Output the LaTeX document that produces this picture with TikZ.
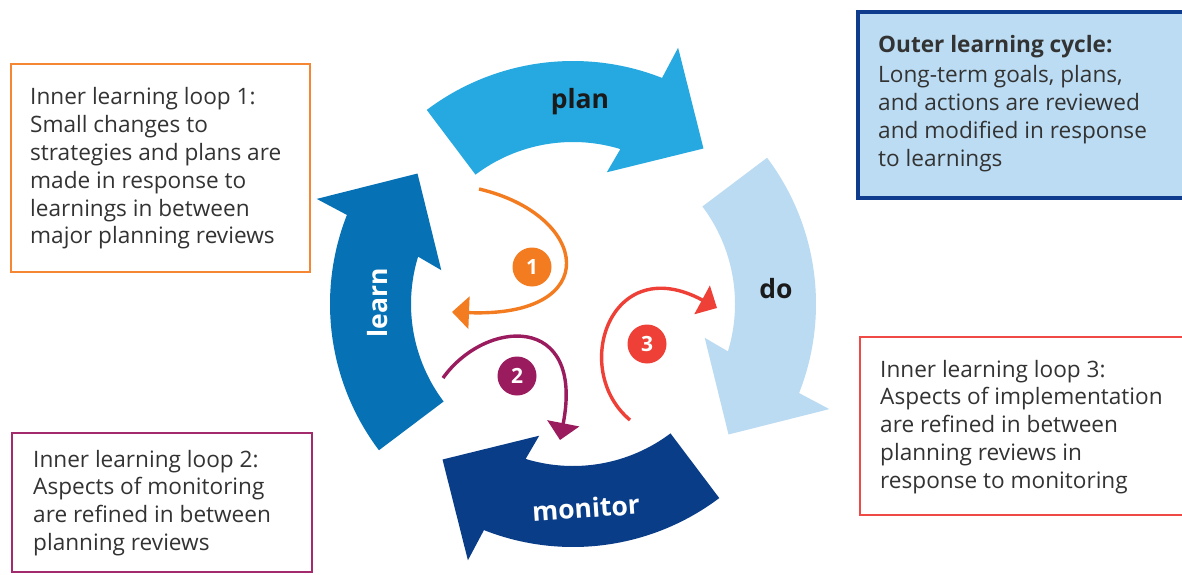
\documentclass[tikz,border=0pt]{standalone}
\usepackage{fontspec}
\setmainfont{Open Sans}
\usetikzlibrary{arrows.meta}
\definecolor{plancol}{RGB}{38,169,224}
\definecolor{docol}{RGB}{187,219,242}
\definecolor{moncol}{RGB}{9,61,136}
\definecolor{learncol}{RGB}{6,114,181}
\definecolor{loopone}{RGB}{244,124,32}
\definecolor{looptwo}{RGB}{155,27,95}
\definecolor{loopthree}{RGB}{238,64,54}
\definecolor{outerfill}{RGB}{187,220,243}
\definecolor{outerline}{RGB}{15,60,140}
\definecolor{boxone}{RGB}{245,134,52}
\definecolor{boxtwo}{RGB}{164,42,110}
\definecolor{boxthree}{RGB}{239,74,69}
\definecolor{txtgray}{RGB}{51,51,51}
\definecolor{lbldark}{RGB}{26,26,26}
\newcommand\cycarrow[2]{%
  \begin{scope}[shift={(573,270)},rotate=#1]
    \fill[#2] (127:243) arc[start angle=127,end angle=68.5,radius=243]
      -- (67.7:277) -- (50:203) -- (75.6:136) -- (73:162)
      arc[start angle=73,end angle=127,radius=162] -- cycle;
  \end{scope}}
\tikzset{
  cyclbl/.style={inner sep=0, font=\bfseries\fontsize{26.5}{30}\selectfont},
  badge/.style={circle, inner sep=0, minimum size=39, text=white, font=\bfseries\fontsize{21}{24}\selectfont},
  loopline/.style={line width=3.4, -{Triangle[length=17,width=32]}},
  boxtext/.style={anchor=north west, inner sep=0, align=left, text=txtgray, font=\fontsize{22.6}{27.8}\selectfont},
}
\begin{document}
\begin{tikzpicture}[x=1pt,y=1pt]
\useasboundingbox (0,0) rectangle (1182,574);
\fill[white] (0,0) rectangle (1182,574);

% outer cycle arrows
\cycarrow{0}{plancol}
\cycarrow{-90}{docol}
\cycarrow{-180}{moncol}
\cycarrow{-270}{learncol}

\node[cyclbl, text=lbldark] (plan) at (580,472) {plan};
\node[cyclbl, text=lbldark] (do) at (776,285) {do};
\node[cyclbl, text=white, rotate=4] (monitor) at (586,66) {monitor};
\node[cyclbl, text=white, rotate=90] (learn) at (378,271) {learn};

% inner loops
\coordinate (l1s) at (479,385);
\coordinate (l1e) at (452,262);
\draw[loopline, loopone] (l1s) .. controls (590,359) and (605,256) .. (l1e);
\node[badge, fill=loopone] (b1) at (532,307) {1};

\coordinate (l2s) at (443,196);
\coordinate (l2e) at (560,134);
\draw[loopline, looptwo] (l2s) .. controls (485,255) and (585,262) .. (l2e);
\node[badge, fill=looptwo] (b2) at (517,198) {2};

\coordinate (l3s) at (630,154);
\coordinate (l3e) at (717,266);
\draw[loopline, loopthree] (l3s) .. controls (570,204) and (610,324) .. (l3e);
\node[badge, fill=loopthree] (b3) at (647,230) {3};

% boxes
\draw[boxone, line width=2] (11,510) rectangle (310,302);
\node[boxtext] (t1) at (30,486.5) {Inner learning loop 1:\\Small changes to\\strategies and plans are\\made in response to\\learnings in between\\major planning reviews};

\draw[outerline, fill=outerfill, line width=4] (858,562) rectangle (1192,376);
\node[boxtext] (t0) at (878,539.2) {\textbf{Outer learning cycle:}\\[3pt]Long-term goals, plans,\\and actions are reviewed\\and modified in response\\to learnings};

\draw[boxtwo, line width=2] (12,141) rectangle (312,2);
\node[boxtext] (t2) at (33,124.2) {Inner learning loop 2:\\Aspects of monitoring\\are refined in between\\planning reviews};

\draw[boxthree, line width=2] (860,237) rectangle (1192,59);
\node[boxtext] (t3) at (880,214.2) {Inner learning loop 3:\\Aspects of implementation\\are refined in between\\planning reviews in\\response to monitoring};
\end{tikzpicture}
\end{document}
